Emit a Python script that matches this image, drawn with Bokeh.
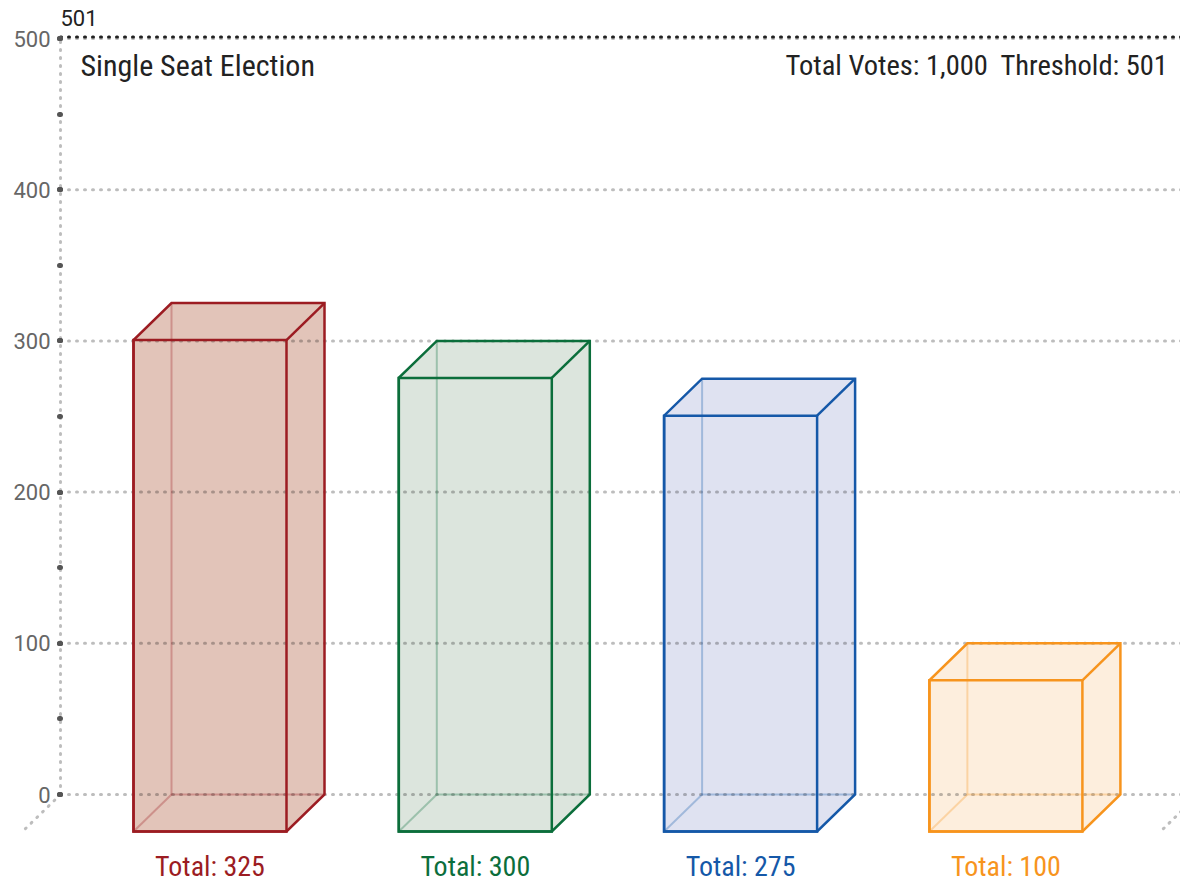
from bokeh.plotting import figure
from bokeh.models import Range1d, LinearAxis, SingleIntervalTicker
from bokeh.core.properties import value
from bokeh.embed import file_html
from bokeh.resources import INLINE

# ---------------- data ----------------
totals = [325, 300, 275, 100]
stroke_colors = ["#9c1c22", "#0b6e3b", "#1558a8", "#f7941d"]
fill_colors = ["#e2c4b9", "#dce5dd", "#dfe2f1", "#fdeedd"]
threshold = 501
total_votes = 1000
y_ticks = [0, 100, 200, 300, 400, 500]
title_left = "Single Seat Election"
title_right = "Total Votes: 1,000\u00a0 Threshold: 501"
bar_labels = ["Total: %d" % v for v in totals]

# ---------------- layout ----------------
W, H = 1180, 884
PXU = 1.512          # pixels per vote
ZERO_PX = 794        # pixel row of the 0 level (from figure top)
AXIS_PX = 60         # pixel column of the axis (from figure left)
BAR_W = 153
STEP = 265.3
FIRST = 73
DX = 38              # depth offset, pixels
DY = 37 / PXU        # depth offset, votes
DOT = "1 7"


def row(px):
    """vertical position (in votes) of a pixel row measured from the top"""
    return (ZERO_PX - px) / PXU


COND = value('"Roboto Condensed", "Liberation Sans Narrow", "DejaVu Sans Condensed", Roboto')
REG = value("Roboto")

x_end = W - AXIS_PX
p = figure(width=W, height=H, output_backend="svg", toolbar_location=None,
           x_range=Range1d(-AXIS_PX, x_end),
           y_range=Range1d(row(H), row(0)),
           x_axis_location=None, y_axis_location=None,
           min_border=0, outline_line_color=None)
p.xgrid.visible = False
p.ygrid.visible = False

# y axis at x = 0
ax = LinearAxis(fixed_location=0, bounds=(0, 500),
                ticker=SingleIntervalTicker(interval=100, num_minor_ticks=2))
ax.axis_line_color = "#000"
ax.axis_line_alpha = 0.26
ax.axis_line_width = 3
ax.axis_line_dash = DOT
ax.axis_line_cap = "round"
ax.major_tick_in = 0
ax.major_tick_out = 1
ax.major_tick_line_width = 5
ax.major_tick_line_cap = "round"
ax.major_tick_line_color = "#555"
ax.minor_tick_in = 0
ax.minor_tick_out = 1
ax.minor_tick_line_width = 5
ax.minor_tick_line_cap = "round"
ax.minor_tick_line_color = "#555"
ax.major_label_text_font = "Roboto"
ax.major_label_text_font_size = "22px"
ax.major_label_text_color = "#666"
ax.major_label_standoff = 9
p.add_layout(ax, "left")

# ---------------- bars ----------------
sil_xs, sil_ys = [], []
fl, fr, fb, ft = [], [], [], []
diag_xs, diag_ys = [], []
hid_xs, hid_ys, hid_c = [], [], []
for i, v in enumerate(totals):
    x0 = FIRST + STEP * i
    x1 = x0 + BAR_W
    y0 = -DY
    yt = v - DY
    sil_xs.append([x0, x1, x1 + DX, x1 + DX, x0 + DX, x0])
    sil_ys.append([y0, y0, 0, v, v, yt])
    fl.append(x0); fr.append(x1); fb.append(y0); ft.append(yt)
    diag_xs.append([x1, x1 + DX]); diag_ys.append([yt, v])
    for hx, hy in (([x0 + DX, x0 + DX], [0, v]),
                   ([x0 + DX, x1 + DX], [0, 0]),
                   ([x0, x0 + DX], [y0, 0])):
        hid_xs.append(hx); hid_ys.append(hy); hid_c.append(stroke_colors[i])

p.patches(sil_xs, sil_ys, fill_color=fill_colors, line_color=None)

# grid lines (drawn over the translucent boxes)
p.segment(x0=[0] * len(y_ticks), x1=[x_end + 100] * len(y_ticks), y0=y_ticks, y1=y_ticks,
          line_color="#000", line_alpha=0.26, line_width=3, line_dash=DOT, line_cap="round")
# floor edges
p.segment(x0=[0, 1138], y0=[0, 0], x1=[-DX * 1.05, 1138 - DX], y1=[-DY * 1.05, -DY],
          line_color="#000", line_alpha=0.26, line_width=3, line_dash=DOT, line_cap="round")

p.multi_line(hid_xs, hid_ys, line_color=hid_c, line_alpha=0.3, line_width=2)
p.patches(sil_xs, sil_ys, fill_color=None, line_color=stroke_colors, line_width=2.5, line_join="miter")
p.quad(left=fl, right=fr, bottom=fb, top=ft, fill_color=None, line_color=stroke_colors,
       line_width=2.5, line_join="miter")
p.multi_line(diag_xs, diag_ys, line_color=stroke_colors, line_width=2.5)

# threshold line
p.segment(x0=[0], x1=[x_end + 100], y0=[threshold], y1=[threshold],
          line_color="#222", line_width=3, line_dash=DOT, line_cap="round")
p.text(x=[0], y=[row(17)], text=[str(threshold)], text_font=REG,
       text_font_size="22px", text_color="#222", text_align="left", text_baseline="middle")

# titles
p.text(x=[20], y=[row(65)], text=[title_left], text_font=COND, text_font_size="30px",
       text_color="#222", text_align="left", text_baseline="middle")
p.text(x=[x_end - 12], y=[row(65)], text=[title_right], text_font=COND, text_font_size="28.5px",
       text_color="#222", text_align="right", text_baseline="middle")

# bar labels
p.text(x=[a + BAR_W / 2 for a in fl], y=[row(866)] * len(totals), text=bar_labels,
       text_font=COND, text_font_size="28px", text_color=stroke_colors,
       text_align="center", text_baseline="middle")

open("out.html", "w").write(file_html(p, INLINE))
